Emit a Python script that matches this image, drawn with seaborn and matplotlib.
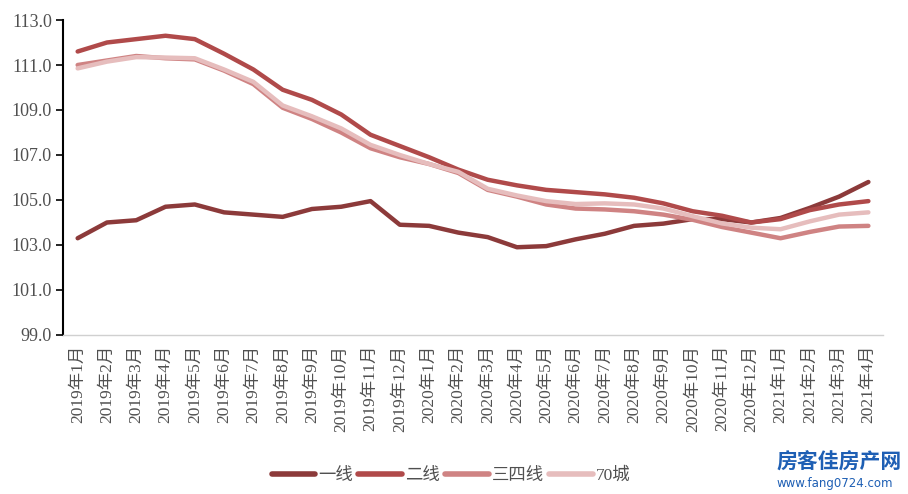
import numpy as np
import pandas as pd
import matplotlib
matplotlib.use("Agg")
import matplotlib.pyplot as plt
import seaborn as sns
from matplotlib.lines import Line2D

months = ["2019年1月", "2019年2月", "2019年3月", "2019年4月", "2019年5月", "2019年6月",
          "2019年7月", "2019年8月", "2019年9月", "2019年10月", "2019年11月", "2019年12月",
          "2020年1月", "2020年2月", "2020年3月", "2020年4月", "2020年5月", "2020年6月",
          "2020年7月", "2020年8月", "2020年9月", "2020年10月", "2020年11月", "2020年12月",
          "2021年1月", "2021年2月", "2021年3月", "2021年4月"]

tier1 = [103.3, 104.0, 104.1, 104.7, 104.8, 104.45, 104.35, 104.25, 104.6, 104.7, 104.95, 103.9,
         103.85, 103.55, 103.35, 102.9, 102.95, 103.25, 103.5, 103.85, 103.95, 104.15, 104.15, 104.0,
         104.2, 104.65, 105.15, 105.8]
tier2 = [111.6, 112.0, 112.15, 112.3, 112.15, 111.5, 110.8, 109.9, 109.45, 108.8, 107.9, 107.4,
         106.9, 106.35, 105.9, 105.65, 105.45, 105.35, 105.25, 105.1, 104.85, 104.5, 104.3, 104.0,
         104.15, 104.55, 104.8, 104.95]
tier34 = [111.0, 111.2, 111.4, 111.3, 111.25, 110.75, 110.15, 109.1, 108.6, 108.0, 107.3, 106.9,
          106.6, 106.2, 105.45, 105.15, 104.8, 104.62, 104.58, 104.5, 104.35, 104.12, 103.8, 103.55,
          103.3, 103.58, 103.82, 103.85]
city70 = [110.85, 111.15, 111.35, 111.33, 111.3, 110.8, 110.25, 109.2, 108.72, 108.18, 107.45, 107.0,
          106.6, 106.25, 105.5, 105.2, 104.95, 104.82, 104.85, 104.8, 104.62, 104.28, 103.96, 103.77,
          103.7, 104.05, 104.35, 104.45]

series_names = ["一线", "二线", "三四线", "70城"]
colors = ["#8C3A3A", "#B04A4A", "#CF8383", "#E6BDBD"]
yticks = [99.0, 101.0, 103.0, 105.0, 107.0, 109.0, 111.0, 113.0]

sns.set_theme(style="white")
plt.rcParams["font.family"] = ["Liberation Serif", "Noto Sans CJK SC", "DejaVu Sans"]

frames = []
for name, vals in zip(series_names, [tier1, tier2, tier34, city70]):
    frames.append(pd.DataFrame({"idx": np.arange(len(months)), "month": months,
                                "value": vals, "series": name}))
df = pd.concat(frames, ignore_index=True)

fig = plt.figure(figsize=(9.08, 4.94), dpi=100)
ax = fig.add_axes([0.0694, 0.3219, 0.9725 - 0.0694, 0.9595 - 0.3219])

sns.lineplot(data=df, x="idx", y="value", hue="series", hue_order=series_names,
             palette=dict(zip(series_names, colors)), linewidth=3.2, ax=ax,
             legend=False, sort=False)
for ln in ax.get_lines():
    ln.set_solid_capstyle("round")
    ln.set_solid_joinstyle("round")

ax.set_xlim(-0.5, len(months) - 0.5)
ax.set_ylim(99, 113)
ax.set_yticks(yticks)
ax.set_yticklabels([f"{v:.1f}" for v in yticks], fontsize=13, color="#505050")

ax.set_xticks(np.arange(len(months)))
ax.set_xticklabels(months, rotation=90, fontsize=12.5, color="#505050")
ax.set_xticks(np.arange(-0.5, len(months), 1), minor=True)
ax.tick_params(axis="x", which="major", length=0, pad=7)
ax.tick_params(axis="x", which="minor", length=5, color="#C8C8C8", width=1, direction="out")
ax.tick_params(axis="y", which="major", length=5, color="black", width=1.2, direction="out",
               left=True, pad=3)

ax.set_xlabel("")
ax.set_ylabel("")
for s in ["top", "right"]:
    ax.spines[s].set_visible(False)
ax.spines["left"].set_color("black")
ax.spines["left"].set_linewidth(1.5)
ax.spines["bottom"].set_color("#D0D0D0")
ax.spines["bottom"].set_linewidth(1)

handles = [Line2D([0], [0], color=c, lw=4, solid_capstyle="round") for c in colors]
fig.legend(handles, series_names, loc="center", bbox_to_anchor=(0.497, 0.037), ncol=4,
           frameon=False, fontsize=12.5, handlelength=2.5, handletextpad=0.2,
           columnspacing=0.3, labelcolor="#505050")

fig.text(0.855, 0.065, "房客佳房产网", fontsize=15, color="#1E5FB4", fontweight="bold",
         ha="left", va="center", family=["Noto Sans CJK SC"])
fig.text(0.855, 0.022, "www.fang0724.com", fontsize=8.5, color="#1E5FB4",
         ha="left", va="center", family=["DejaVu Sans"])

fig.savefig("out.png", dpi=100, facecolor="white")
